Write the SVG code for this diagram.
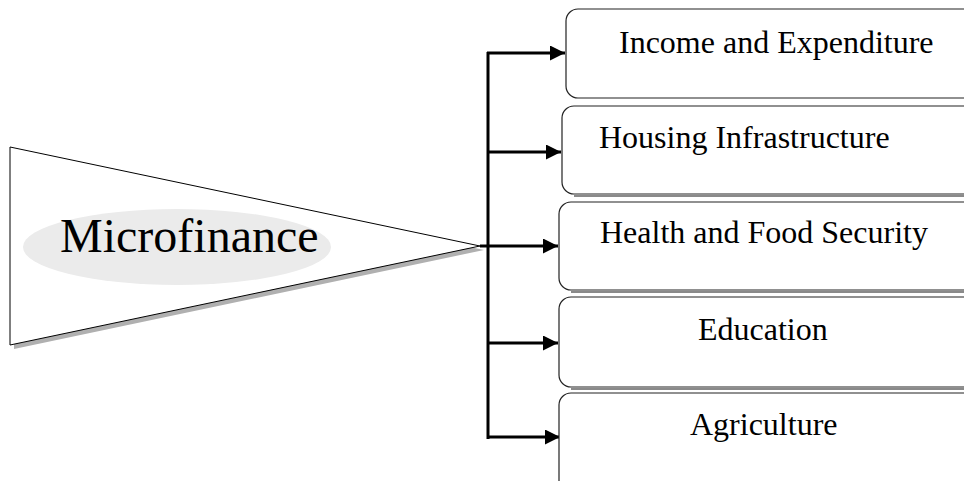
<svg xmlns="http://www.w3.org/2000/svg" width="964" height="481" viewBox="0 0 964 481">
<style>
.box{fill:#fff;stroke:#222;stroke-width:1.2}
.shadow{fill:none;stroke:#8a8a8a;stroke-width:2}
.lbl{font-family:"Liberation Serif","Times New Roman",serif;font-size:32px;fill:#000}
.conn{stroke:#000;stroke-width:3;fill:none}
</style>
<defs>
<marker id="ah" markerWidth="6" markerHeight="5" refX="5" refY="2.5" orient="auto" markerUnits="strokeWidth">
<path d="M0,0 L5,2.5 L0,5 Z" fill="#000"/>
</marker>
</defs>
<rect width="964" height="481" fill="#fff"/>
<g id="microfinance">
<polygon points="14,151 484,250 14,349" fill="#b0b0b0"/>
<polygon points="10,147 480,246 10,345" fill="#fff" stroke="#000" stroke-width="1"/>
<ellipse cx="177" cy="247" rx="154" ry="38" fill="#ebebeb"/>
<text x="60" y="252" font-family="'Liberation Serif','Times New Roman',serif" font-size="48" fill="#000">Microfinance</text>
</g>
<g id="connectors">
<line class="conn" x1="488" y1="52" x2="488" y2="439"/>
<line class="conn" x1="480" y1="246" x2="488" y2="246"/>
<line class="conn" x1="487" y1="53" x2="565" y2="53" marker-end="url(#ah)"/>
<line class="conn" x1="487" y1="152" x2="561" y2="152" marker-end="url(#ah)"/>
<line class="conn" x1="487" y1="246" x2="558" y2="246" marker-end="url(#ah)"/>
<line class="conn" x1="487" y1="343" x2="558" y2="343" marker-end="url(#ah)"/>
<line class="conn" x1="487" y1="437" x2="560" y2="437" marker-end="url(#ah)"/>
</g>
<g id="income">
<rect class="box" x="566" y="9" width="412" height="89" rx="12"/>
<text class="lbl" x="619" y="53">Income and Expenditure</text>
</g>
<g id="housing">
<line class="shadow" x1="574" y1="196" x2="964" y2="196"/>
<rect class="box" x="562" y="106" width="416" height="88" rx="12"/>
<text class="lbl" x="599" y="148">Housing Infrastructure</text>
</g>
<g id="health">
<line class="shadow" x1="571" y1="292" x2="964" y2="292"/>
<rect class="box" x="559" y="202" width="419" height="88" rx="12"/>
<text class="lbl" x="600" y="243">Health and Food Security</text>
</g>
<g id="education">
<line class="shadow" x1="571" y1="389" x2="964" y2="389"/>
<rect class="box" x="559" y="297" width="419" height="90" rx="12"/>
<text class="lbl" x="698" y="340">Education</text>
</g>
<g id="agriculture">
<rect class="box" x="559" y="393" width="419" height="100" rx="12"/>
<text class="lbl" x="690" y="435">Agriculture</text>
</g>
</svg>
